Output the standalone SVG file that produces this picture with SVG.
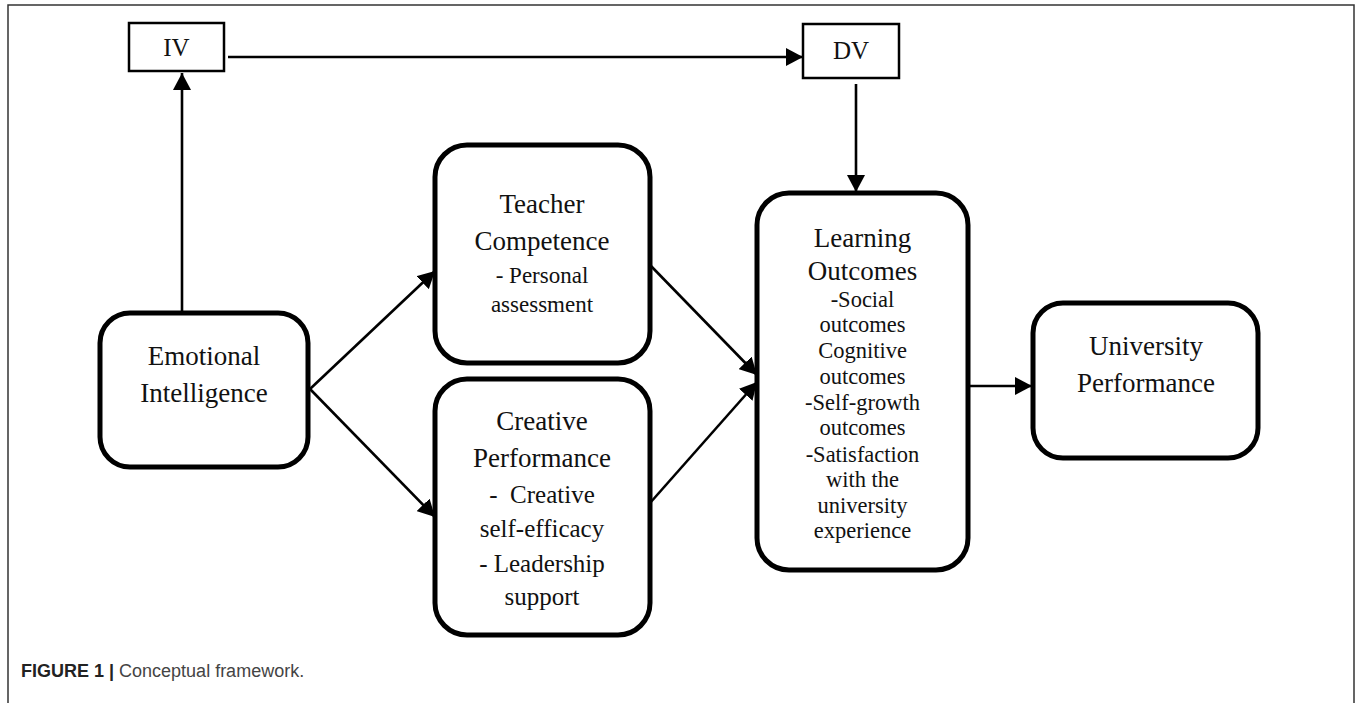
<svg xmlns="http://www.w3.org/2000/svg" width="1357" height="703" viewBox="0 0 1357 703">
<style>
.frame{fill:none;stroke:#333;stroke-width:1.5}
.rbox{fill:#fff;stroke:#000;stroke-width:5}
.sbox{fill:#fff;stroke:#000;stroke-width:2.5}
.conn{fill:none;stroke:#000;stroke-width:2.6}
.big{font-family:"Liberation Serif","Times New Roman",serif;font-size:27px;fill:#111;text-anchor:middle}
.sm{font-family:"Liberation Serif","Times New Roman",serif;font-size:22.5px;fill:#111;text-anchor:middle}
.md{font-family:"Liberation Serif","Times New Roman",serif;font-size:25px;fill:#111;text-anchor:middle}
.cap{font-family:"Liberation Sans",Arial,sans-serif;font-size:18px;fill:#444}
</style>
<defs>
<marker id="arr" markerUnits="userSpaceOnUse" markerWidth="18" markerHeight="18" refX="17" refY="9" orient="auto">
<path d="M0,0 L17,9 L0,18 z" fill="#000"/>
</marker>
</defs>
<rect width="1357" height="703" fill="#fff"/>
<path class="frame" d="M8,703 L8,5 L1354,5 L1354,703"/>
<g id="connectors">
<line class="conn" x1="182" y1="313" x2="182" y2="73" marker-end="url(#arr)"/>
<line class="conn" x1="228" y1="57" x2="803" y2="57" marker-end="url(#arr)"/>
<line class="conn" x1="856" y1="84" x2="856" y2="192" marker-end="url(#arr)"/>
<line class="conn" x1="310" y1="389" x2="435" y2="271" marker-end="url(#arr)"/>
<line class="conn" x1="310" y1="389" x2="435" y2="517" marker-end="url(#arr)"/>
<line class="conn" x1="650" y1="265" x2="757" y2="375" marker-end="url(#arr)"/>
<line class="conn" x1="650" y1="503" x2="757" y2="382" marker-end="url(#arr)"/>
<line class="conn" x1="968" y1="386" x2="1032" y2="386" marker-end="url(#arr)"/>
</g>
<g id="iv">
<rect class="sbox" x="129" y="23" width="95" height="48"/>
<text class="big" x="176.5" y="56" style="font-size:25px">IV</text>
</g>
<g id="dv">
<rect class="sbox" x="803" y="24" width="96" height="54"/>
<text class="big" x="851" y="59" style="font-size:25px">DV</text>
</g>
<g id="emotional">
<rect class="rbox" x="100" y="313" width="208" height="154" rx="30"/>
<text class="big" x="204" y="365">Emotional</text>
<text class="big" x="204" y="402">Intelligence</text>
</g>
<g id="teacher">
<rect class="rbox" x="435" y="145" width="215" height="218" rx="32"/>
<text class="big" x="542" y="213">Teacher</text>
<text class="big" x="542" y="250">Competence</text>
<text class="sm" x="542" y="283" style="font-size:23px">- Personal</text>
<text class="sm" x="542" y="312" style="font-size:23px">assessment</text>
</g>
<g id="creative">
<rect class="rbox" x="435" y="379" width="215" height="256" rx="32"/>
<text class="big" x="542" y="430">Creative</text>
<text class="big" x="542" y="467">Performance</text>
<text class="md" x="542" y="503" xml:space="preserve">-  Creative</text>
<text class="md" x="542" y="537">self-efficacy</text>
<text class="md" x="542" y="572">- Leadership</text>
<text class="md" x="542" y="605">support</text>
</g>
<g id="learning">
<rect class="rbox" x="757" y="193" width="211" height="377" rx="32"/>
<text class="big" x="862.5" y="247">Learning</text>
<text class="big" x="862.5" y="280">Outcomes</text>
<text class="sm" x="862.5" y="307">-Social</text>
<text class="sm" x="862.5" y="332">outcomes</text>
<text class="sm" x="862.5" y="358">Cognitive</text>
<text class="sm" x="862.5" y="384">outcomes</text>
<text class="sm" x="862.5" y="410">-Self-growth</text>
<text class="sm" x="862.5" y="435">outcomes</text>
<text class="sm" x="862.5" y="462">-Satisfaction</text>
<text class="sm" x="862.5" y="487">with the</text>
<text class="sm" x="862.5" y="513">university</text>
<text class="sm" x="862.5" y="538">experience</text>
</g>
<g id="university">
<rect class="rbox" x="1033" y="303" width="225" height="155" rx="30"/>
<text class="big" x="1146" y="355">University</text>
<text class="big" x="1146" y="392">Performance</text>
</g>
<text class="cap" x="21" y="677"><tspan font-weight="bold" fill="#222">FIGURE 1</tspan><tspan fill="#222" font-weight="bold"> | </tspan>Conceptual framework.</text>
</svg>
